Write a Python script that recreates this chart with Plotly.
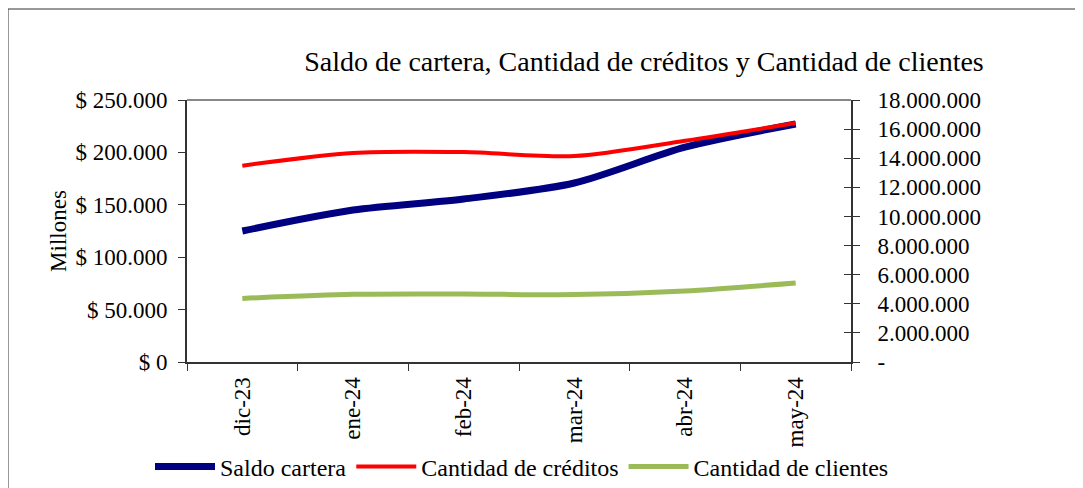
import plotly.graph_objects as go

categories = ["dic-23", "ene-24", "feb-24", "mar-24", "abr-24", "may-24"]
saldo_cartera = [125000, 145000, 155500, 170800, 205000, 227100]          # millones
cantidad_creditos = [13490000, 14360000, 14420000, 14150000, 15200000, 16420000]
cantidad_clientes = [4370000, 4650000, 4670000, 4630000, 4880000, 5430000]

left_ticks = [0, 50000, 100000, 150000, 200000, 250000]
left_text = ["$ " + f"{v:,}".replace(",", ".") for v in left_ticks]
right_ticks = [0, 2000000, 4000000, 6000000, 8000000, 10000000, 12000000, 14000000, 16000000, 18000000]
right_text = ["-"] + [f"{v:,}".replace(",", ".") for v in right_ticks[1:]]

FONT = "Liberation Serif"
FS = 23
OFF = 8  # page body margin
W, H = 1083 - OFF, 488 - OFF
L, T = 187 - OFF, 100 - OFF
pw, ph = 664, 262
R, B = W - L - pw, H - T - ph

fig = go.Figure()
fig.add_trace(go.Scatter(x=categories, y=saldo_cartera, name="Saldo cartera", mode="lines",
                         line=dict(color="#000080", width=7, shape="spline", smoothing=0.8), yaxis="y"))
fig.add_trace(go.Scatter(x=categories, y=cantidad_creditos, name="Cantidad de créditos", mode="lines",
                         line=dict(color="#FF0000", width=4, shape="spline", smoothing=0.8), yaxis="y2"))
fig.add_trace(go.Scatter(x=categories, y=cantidad_clientes, name="Cantidad de clientes", mode="lines",
                         line=dict(color="#9BBB59", width=5, shape="spline", smoothing=0.8), yaxis="y2"))

fig.update_layout(
    width=W, height=H,
    margin=dict(l=L, r=R, t=T, b=B, autoexpand=False),
    paper_bgcolor="white", plot_bgcolor="white",
    font=dict(family=FONT, size=FS, color="black"),
    title=dict(text="Saldo de cartera, Cantidad de créditos y Cantidad de clientes",
               x=(644 - OFF) / W, xanchor="center", y=1 - (61 - OFF) / H, yanchor="middle",
               font=dict(family=FONT, size=28, color="black")),
    showlegend=True,
    legend=dict(orientation="h", x=(150 - 187) / pw, xanchor="left",
                y=-(467 - (100 + ph)) / ph, yanchor="middle",
                font=dict(family=FONT, size=24, color="black"), bgcolor="rgba(0,0,0,0)",
                itemwidth=60, tracegroupgap=0),
    xaxis=dict(type="category", range=[-0.5, 5.5], tickangle=-90, tickson="boundaries",
               ticks="outside", ticklen=7, tickcolor="#333", showline=True, linecolor="#333", linewidth=2,
               showgrid=False, zeroline=False, tickfont=dict(size=FS), ticklabelstandoff=4),
    yaxis=dict(range=[0, 250000], tickvals=left_ticks, ticktext=left_text,
               ticks="outside", ticklen=7, tickcolor="#333", showline=True, linecolor="#333", linewidth=2,
               showgrid=False, zeroline=False, ticklabelstandoff=6,
               title=dict(text="Millones", standoff=2, font=dict(size=FS))),
    yaxis2=dict(range=[0, 18000000], tickvals=right_ticks, ticktext=right_text, overlaying="y", side="right",
                ticks="outside", ticklen=7, tickcolor="#333", showline=True, linecolor="#333", linewidth=2,
                showgrid=False, zeroline=False, ticklabelstandoff=13),
    yaxis3=dict(range=[0, 18000000], tickvals=right_ticks, overlaying="y", side="right", showticklabels=False,
                ticks="inside", ticklen=7, tickcolor="#333", showline=False, showgrid=False, zeroline=False),
    shapes=[
        dict(type="line", xref="paper", yref="paper", x0=0, x1=1, y0=1, y1=1, line=dict(color="#888", width=2)),
        dict(type="rect", xref="paper", yref="paper",
             x0=(8 - 187) / pw, x1=(1083 + 10 - 187) / pw, y0=-(488 + 10 - 100 - ph) / ph, y1=1 + (100 - 9) / ph,
             line=dict(color="#333", width=1)),
    ],
)
fig.add_trace(go.Scatter(x=[categories[0]], y=[None], yaxis="y3", showlegend=False, hoverinfo="skip"))

fig.write_html("out.html")
